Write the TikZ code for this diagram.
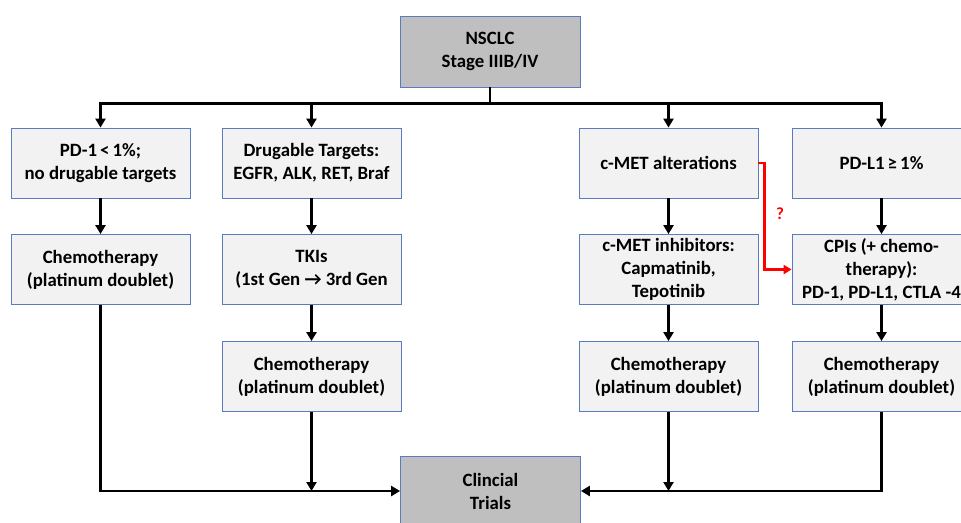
\documentclass[tikz,border=0pt]{standalone}
\usepackage{fontspec}
\setmainfont{Carlito}
\usetikzlibrary{arrows.meta}
\definecolor{boxblue}{HTML}{5B7BC0}
\definecolor{boxfill}{HTML}{F2F2F2}
\definecolor{darkfill}{HTML}{BFBFBF}
\definecolor{arrred}{HTML}{FF0000}
\begin{document}
\begin{tikzpicture}[x=1pt,y=-1pt,
  box/.style={draw=boxblue, line width=0.8pt, fill=boxfill, minimum width=179pt, minimum height=70pt,
    align=center, inner sep=0pt, font=\bfseries\fontsize{18.8}{23}\selectfont},
  darkbox/.style={box, fill=darkfill, minimum width=180pt, minimum height=71pt},
  conn/.style={line width=2.4pt, black},
  arr/.style={conn, -{Triangle[length=9pt,width=10pt]}},
  redarr/.style={line width=2.4pt, arrred, -{Triangle[length=8pt,width=9pt]}}]
\useasboundingbox (0,0) rectangle (961,522);
\node[darkbox] (top) at (490,51.5) {NSCLC\\Stage IIIB/IV};
\node[box] (r1a) at (100.5,163) {PD-1\,<\,1\%;\\no drugable targets};
\node[box] (r1b) at (311.5,163) {Drugable Targets:\\EGFR, ALK, RET, Braf};
\node[box] (r1c) at (668.5,163) {c-MET alterations};
\node[box] (r1d) at (881.5,163) {PD-L1\,≥\,1\%};
\node[box] (r2a) at (100.5,269.5) {Chemotherapy\\(platinum doublet)};
\node[box] (r2b) at (311.5,269.5) {TKIs\\(1st Gen → 3rd Gen};
\node[box] (r2c) at (668.5,269.5) {c-MET inhibitors:\\Capmatinib,\\Tepotinib};
\node[box] (r2d) at (881.5,269.5) {CPIs (+ chemo-\\therapy):\\PD-1, PD-L1, CTLA -4};
\node[box] (r3b) at (311.5,376.5) {Chemotherapy\\(platinum doublet)};
\node[box] (r3c) at (668.5,376.5) {Chemotherapy\\(platinum doublet)};
\node[box] (r3d) at (881.5,376.5) {Chemotherapy\\(platinum doublet)};
\node[darkbox, minimum height=70pt] (trials) at (490.5,491) {Clincial\\Trials};
% top distribution
\draw[conn] (top.south) -- ++(0,16) coordinate (j);
\draw[arr] (j) -| (r1a.north);
\draw[arr] (j) -| (r1d.north);
\draw[arr] (r1b.north |- j) -- (r1b.north);
\draw[arr] (r1c.north |- j) -- (r1c.north);
% vertical chains
\draw[arr] (r1a) -- (r2a);
\draw[arr] (r1b) -- (r2b);
\draw[arr] (r1c) -- (r2c);
\draw[arr] (r1d) -- (r2d);
\draw[arr] (r2b) -- (r3b);
\draw[arr] (r2c) -- (r3c);
\draw[arr] (r2d) -- (r3d);
% to trials
\draw[arr] (r2a.south) |- (trials.west);
\draw[arr] (r3b.south) -- (r3b.south |- trials.west);
\draw[arr] (r3d.south) |- (trials.east);
\draw[arr] (r3c.south) -- (r3c.south |- trials.east);
% red question link
\draw[redarr] (r1c.east) -- ++(6,0) |- (r2d.west);
\node[text=arrred, font=\bfseries\fontsize{17}{19}\selectfont] (q) at (780,214) {?};
\end{tikzpicture}
\end{document}
